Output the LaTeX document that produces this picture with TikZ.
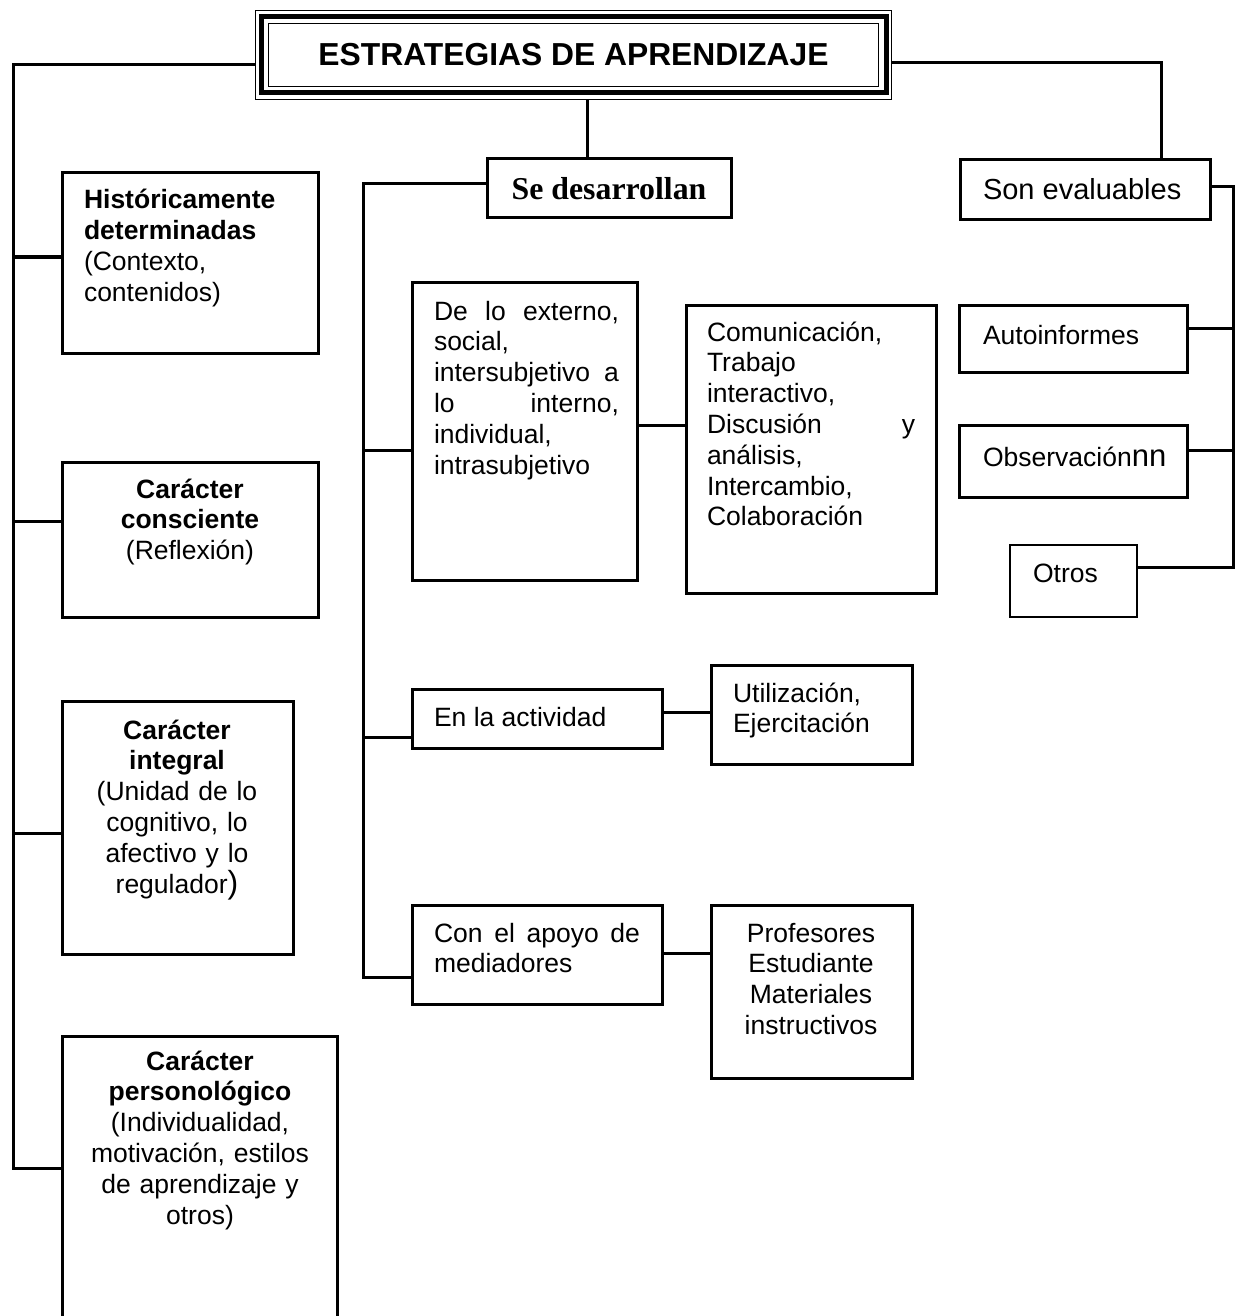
\documentclass[tikz,border=0pt]{standalone}
\usepackage{fontspec}
\setmainfont{Liberation Sans}
\newfontfamily\serifbold{Liberation Serif}
\newcommand{\fs}{\fontsize{13.25}{15.4}\selectfont}
\newcommand{\fst}{\rule{0pt}{14pt}}
\newcommand{\jl}[2]{\leavevmode\hbox to #1{#2}}
\newcommand{\mkbox}[6][]{\node[boxst,#1,minimum width={(#4-#2)*0.5pt},minimum height={(#5-#3)*0.5pt}] (#6) at ({(#2+#4)/2},{(#3+#5)/2}) {};}
\tikzset{
  boxst/.style={draw=black, line width=1.5pt, inner sep=0pt, outer sep=0pt, rectangle, fill=white},
  conn/.style={draw=black, line width=1.5pt},
  txt/.style={inner sep=0pt, outer sep=0pt, font=\fs, align=left, anchor=north west},
  ctxt/.style={inner sep=0pt, outer sep=0pt, font=\fs, align=center, anchor=north},
  ltxt/.style={inner sep=0pt, outer sep=0pt, font=\fs, anchor=base west}
}
\begin{document}
\begin{tikzpicture}[x=0.5pt,y=-0.5pt]
\useasboundingbox (0,0) rectangle (1235,1316);
\fill[white] (0,0) rectangle (1235,1316);
\clip (0,0) rectangle (1235,1316);

% ---------- junction coordinates ----------
\coordinate (LT) at (13,65);
\coordinate (LB) at (13,1168);
\coordinate (L1) at (13,257);
\coordinate (L2) at (13,521);
\coordinate (L3) at (13,833);
\coordinate (CV) at (587,0);
\coordinate (M0) at (363,184);
\coordinate (MB) at (363,977);
\coordinate (M1) at (363,450);
\coordinate (M2) at (363,737);
\coordinate (E1) at (0,425);
\coordinate (E2) at (0,712);
\coordinate (E3) at (0,953);
\coordinate (RT) at (1161,63);
\coordinate (RR) at (1233,187);
\coordinate (RB) at (1233,567);
\coordinate (R1) at (1233,328);
\coordinate (R2) at (1233,450);

% ---------- boxes ----------
\node[draw=black, line width=0.75pt, inner sep=0pt, outer sep=0pt, fill=white,
      minimum width=318pt, minimum height=44.5pt,
      font=\fontsize{15.9}{18}\selectfont\bfseries] (title) at (573.5,55) {ESTRATEGIAS DE APRENDIZAJE};
\draw[line width=2.5pt] (261,17) rectangle (886,93);
\draw[line width=0.75pt] (268.5,23.5) rectangle (878.5,86.5);

\mkbox{62}{173}{318}{353}{hist}
\mkbox{62}{462}{318}{617}{consc}
\mkbox{62}{701}{293}{954}{integ}
\mkbox{62}{1036}{337}{1345}{perso}
\node[boxst, minimum width=122pt, minimum height=29.5pt,
      font=\fontsize{15.9}{18}\selectfont\serifbold\bfseries] (sedes) at (609,188.5) {Se desarrollan};
\mkbox{412}{282}{637}{580}{ext}
\mkbox{686}{305}{936}{593}{comu}
\mkbox{412}{689}{662}{748}{activ}
\mkbox{711}{665}{912}{764}{util}
\mkbox{412}{905}{662}{1004}{apoyo}
\mkbox{711}{905}{912}{1078}{prof}
\mkbox{960}{160}{1210}{220}{sonev}
\mkbox{959}{305}{1187}{372}{autoi}
\mkbox{959}{425}{1187}{497}{obser}
\mkbox[line width=1.3pt]{1010}{545}{1137}{617}{otros}

% ---------- connectors ----------
\draw[conn] (title.west |- LT) -- (LT) -- (LB) -- (perso.west |- LB);
\draw[conn] (L1) -- (hist.west |- L1);
\draw[conn] (L2) -- (consc.west |- L2);
\draw[conn] (L3) -- (integ.west |- L3);

\draw[conn] (title.south -| CV) -- (sedes.north -| CV);
\draw[conn] (sedes.west |- M0) -- (M0) -- (MB) -- (apoyo.west |- MB);
\draw[conn] (M1) -- (ext.west |- M1);
\draw[conn] (M2) -- (activ.west |- M2);
\draw[conn] (ext.east |- E1) -- (comu.west |- E1);
\draw[conn] (activ.east |- E2) -- (util.west |- E2);
\draw[conn] (apoyo.east |- E3) -- (prof.west |- E3);

\draw[conn] (title.east |- RT) -- (RT) -- (sonev.north -| RT);
\draw[conn] (sonev.east |- RR) -- (RR) -- (RB) -- (otros.east |- RB);
\draw[conn] (R1) -- (autoi.east |- R1);
\draw[conn] (R2) -- (obser.east |- R2);

% ---------- texts ----------
\node[txt, text width=110pt] (histT) at (84,181)
  {\fst\textbf{Históricamente}\\\textbf{determinadas}\\(Contexto,\\contenidos)};
\node[ctxt, text width=120pt] (conscT) at (190,470)
  {\fst\textbf{Carácter}\\\textbf{consciente}\\(Reflexión)};
\node[ctxt, text width=110pt] (integT) at (177,711)
  {\fst\textbf{Carácter}\\\textbf{integral}\\(Unidad de lo\\cognitivo, lo\\afectivo y lo\\regulador{\fontsize{16}{15.4}\selectfont)}};
\node[ctxt, text width=130pt] (persoT) at (200,1042)
  {\fst\textbf{Carácter}\\\textbf{personológico}\\(Individualidad,\\motivación, estilos\\de aprendizaje y\\otros)};

\node[txt, text width=92.5pt] (extT) at (434,292)
  {\fst\jl{92.5pt}{De\hfill lo\hfill externo,}\\social,\\\jl{92.5pt}{intersubjetivo\hfill a}\\\jl{92.5pt}{lo\hfill interno,}\\individual,\\intrasubjetivo};
\node[txt, text width=104pt] (comuT) at (707,313)
  {\fst Comunicación,\\Trabajo\\interactivo,\\\jl{104pt}{Discusión\hfill y}\\análisis,\\Intercambio,\\Colaboración};
\node[ltxt] (activT) at (434,726) {En la actividad};
\node[txt, text width=95pt] (utilT) at (733,674) {\fst Utilización,\\Ejercitación};
\node[txt, text width=103pt] (apoyoT) at (434,914)
  {\fst\jl{103pt}{Con\hfill el\hfill apoyo\hfill de}\\mediadores};
\node[ctxt, text width=100pt] (profT) at (811,914)
  {\fst Profesores\\Estudiante\\Materiales\\instructivos};

\node[ltxt, font=\fontsize{14.5}{17}\selectfont] (sonevT) at (983,200) {Son evaluables};
\node[ltxt] (autoiT) at (983,344) {Autoinformes};
\node[ltxt] (obserT) at (983,466) {Observación{\fontsize{15.5}{17}\selectfont nn}};
\node[ltxt] (otrosT) at (1033,582) {Otros};
\end{tikzpicture}
\end{document}
